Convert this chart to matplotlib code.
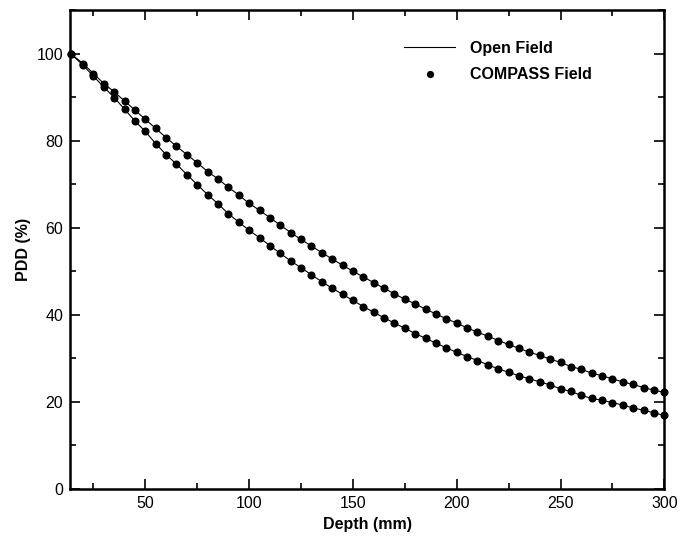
import matplotlib
matplotlib.use("Agg")
import matplotlib.pyplot as plt
from matplotlib.lines import Line2D
from matplotlib.ticker import MultipleLocator

plt.rcParams['font.family'] = ['Liberation Sans', 'DejaVu Sans']

# Depth (mm)
depth = [14, 20, 25, 30, 35, 40, 45, 50, 55, 60, 65, 70, 75, 80, 85, 90, 95,
         100, 105, 110, 115, 120, 125, 130, 135, 140, 145, 150, 155, 160, 165,
         170, 175, 180, 185, 190, 195, 200, 205, 210, 215, 220, 225, 230, 235,
         240, 245, 250, 255, 260, 265, 270, 275, 280, 285, 290, 295, 300]

# Upper curve (PDD %)
pdd_upper = [100.0, 97.7, 95.4, 93.1, 91.2, 89.1, 87.0, 84.9, 82.8, 80.7, 78.7,
             76.8, 74.9, 72.9, 71.2, 69.3, 67.5, 65.6, 64.0, 62.3, 60.6, 58.9,
             57.3, 55.8, 54.3, 52.8, 51.4, 50.0, 48.7, 47.4, 46.1, 44.8, 43.6,
             42.5, 41.3, 40.2, 39.1, 38.1, 37.0, 36.0, 35.1, 34.1, 33.2, 32.3,
             31.4, 30.7, 29.8, 29.1, 28.1, 27.5, 26.6, 26.0, 25.3, 24.6, 24.0,
             23.3, 22.7, 22.2]

# Lower curve (PDD %)
pdd_lower = [100.0, 97.3, 94.8, 92.3, 89.9, 87.2, 84.5, 82.1, 79.3, 76.8, 74.6,
             72.2, 69.9, 67.6, 65.5, 63.2, 61.3, 59.4, 57.7, 55.9, 54.1, 52.4,
             50.8, 49.2, 47.6, 46.1, 44.7, 43.3, 41.9, 40.6, 39.3, 38.1, 36.9,
             35.7, 34.6, 33.5, 32.4, 31.4, 30.4, 29.5, 28.5, 27.6, 26.8, 26.0,
             25.3, 24.6, 23.9, 23.0, 22.4, 21.5, 20.8, 20.4, 19.8, 19.3, 18.6,
             18.1, 17.5, 16.9]

fig = plt.figure(figsize=(6.82, 5.45), dpi=100)
ax = fig.add_axes([70/682, 1-489/545, (664.3-70)/682, (489-10)/545])

for pdd in (pdd_upper, pdd_lower):
    ax.plot(depth, pdd, color='black', lw=0.8, zorder=2)
    ax.plot(depth, pdd, linestyle='none', marker='o', ms=4.8,
            color='black', zorder=3, clip_on=False)

ax.set_xlim(13.7, 300)
ax.set_ylim(0, 110)
ax.xaxis.set_minor_locator(MultipleLocator(25))
ax.yaxis.set_minor_locator(MultipleLocator(10))
ax.set_yticks([0, 20, 40, 60, 80, 100])
ax.set_xticks([50, 100, 150, 200, 250, 300])

ax.tick_params(which='both', direction='in', top=True, right=True,
               labelsize=11.5, width=1.2, pad=5)
ax.tick_params(which='major', length=7)
ax.tick_params(which='minor', length=4)
for s in ax.spines.values():
    s.set_linewidth(1.8)

ax.set_xlabel('Depth (mm)', fontsize=11.5, fontweight='bold', labelpad=4)
ax.set_ylabel('PDD (%)', fontsize=11.5, fontweight='bold', labelpad=4)

handles = [Line2D([], [], color='black', lw=0.8),
           Line2D([], [], color='black', linestyle='none', marker='o', ms=4.2)]
leg = ax.legend(handles, ['Open Field', 'COMPASS Field'], frameon=False,
                loc='upper left', bbox_to_anchor=(0.538, 0.966),
                prop={'size': 11.5, 'weight': 'bold'}, handlelength=3.2,
                handletextpad=0.9, labelspacing=0.72)

fig.savefig('out.png', dpi=100)
